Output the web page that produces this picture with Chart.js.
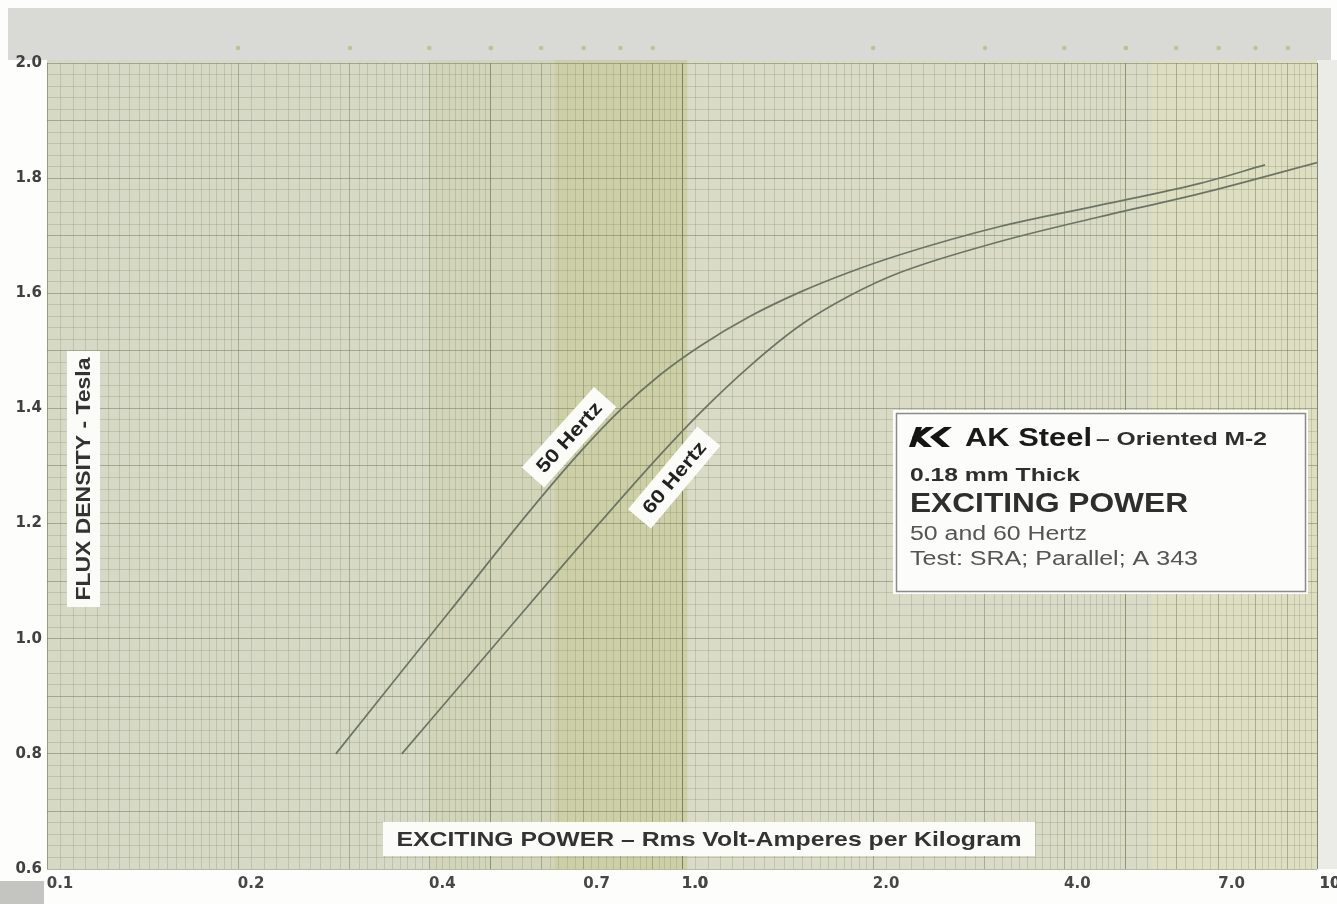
<!DOCTYPE html>
<html>
<head>
<meta charset="utf-8">
<title>AK Steel Oriented M-2 - Exciting Power</title>
<script src="https://cdn.jsdelivr.net/npm/chart.js@4.4.0/dist/chart.umd.min.js"></script>
<style>
  html, body { margin: 0; padding: 0; background: #fdfdfb; }
  #wrap { width: 1337px; height: 904px; position: relative; }
</style>
</head>
<body>
<div id="wrap"><canvas id="chart" width="1337" height="904"></canvas></div>
<script>
// ===== DATA =====
const power50 = [0.285, 0.431, 0.576, 0.691, 0.799, 0.923, 1.067, 1.280, 1.534, 1.839, 2.204, 3.167, 4.552, 6.541, 8.281];
const flux50  = [0.80,  1.048, 1.222, 1.324, 1.397, 1.458, 1.508, 1.560, 1.602, 1.637, 1.667, 1.716, 1.753, 1.791, 1.823];

const power60 = [0.362, 0.517, 0.743, 0.923, 1.067, 1.280, 1.534, 1.839, 2.204, 3.167, 4.552, 6.541, 10.0];
const flux60  = [0.80,  1.000, 1.202, 1.319, 1.392, 1.474, 1.544, 1.596, 1.636, 1.690, 1.733, 1.773, 1.827];

const xTickValues = [0.1, 0.2, 0.4, 0.7, 1, 2, 4, 7, 10];
const xTickText   = ['0.1', '0.2', '0.4', '0.7', '1.0', '2.0', '4.0', '7.0', '10'];
const yTickValues = [0.6, 0.8, 1.0, 1.2, 1.4, 1.6, 1.8, 2.0];

const FONT = '"Liberation Sans", Arial, sans-serif';
const TICK_FONT = '"DejaVu Sans", sans-serif';
const INK = '#333333';

// ===== GRAPH PAPER GRID VALUES =====
function logPaperLines() {
  const out = [];
  [0.1, 1].forEach(dec => {
    for (let m = 1; m < 2; m += 0.05) out.push(m * dec);
    for (let m = 2; m < 5; m += 0.1) out.push(m * dec);
    for (let m = 5; m < 10; m += 0.2) out.push(m * dec);
  });
  out.push(10);
  return out.map(v => Math.round(v * 1e6) / 1e6);
}
const xGrid = logPaperLines();

function isWhole(v) {
  const m = v / Math.pow(10, Math.floor(Math.log10(v) + 1e-9));
  return Math.abs(m - Math.round(m)) < 1e-6;
}
function isDecade(v) {
  return Math.abs(Math.log10(v) - Math.round(Math.log10(v))) < 1e-6;
}

// ===== BACKGROUND PAPER =====
const paperPlugin = {
  id: 'paper',
  beforeDraw(chart) {
    const { ctx, chartArea: a, scales } = chart;
    const h = a.bottom - a.top;
    ctx.save();
    ctx.fillStyle = '#fdfdfb';
    ctx.fillRect(0, 0, chart.width, chart.height);
    // grey scan strip along the top
    ctx.fillStyle = '#d9d9d6';
    ctx.fillRect(8, 8, chart.width - 14, a.top - 11);
    ctx.fillStyle = '#ebebe8';
    ctx.fillRect(a.right, a.top - 3, chart.width - a.right, h + 3);
    ctx.fillStyle = '#c4c4c1';
    ctx.fillRect(0, a.bottom + 12, 44, chart.height - a.bottom - 12);
    // paper
    const x = scales.x;
    const px = v => x.getPixelForValue(v);
    ctx.fillStyle = '#d6d9c5';
    ctx.fillRect(a.left, a.top - 3, a.right - a.left, h + 3);
    ctx.fillStyle = '#d2d5ba';
    ctx.fillRect(px(0.4), a.top - 3, px(0.63) - px(0.4), h + 3);
    ctx.fillStyle = '#cdcfa6';
    ctx.fillRect(px(0.63), a.top - 3, px(1.02) - px(0.63), h + 3);
    ctx.fillStyle = '#d9dbc6';
    ctx.fillRect(px(1.02), a.top - 3, a.right - px(1.02), h + 3);
    ctx.fillStyle = 'rgba(224,224,192,0.6)';
    ctx.fillRect(px(5.5), a.top - 3, a.right - px(5.5), h + 3);
    // register dots on the top strip
    ctx.fillStyle = '#bcc291';
    xGrid.filter(v => isWhole(v) && !isDecade(v)).forEach(v => {
      ctx.beginPath();
      ctx.arc(px(v), a.top - 15, 2.2, 0, Math.PI * 2);
      ctx.fill();
    });
    ctx.restore();
  }
};

// ===== TEXT OVERLAYS =====
function whiteBox(ctx, x, y, w, h) {
  ctx.fillStyle = '#fbfbf8';
  ctx.fillRect(x, y, w, h);
}

// draw text stretched to the printed width
function fitText(ctx, text, x, y, width, centered) {
  const w = ctx.measureText(text).width;
  ctx.save();
  ctx.translate(x, y);
  ctx.scale(width / w, 1);
  ctx.textAlign = 'left';
  ctx.fillText(text, centered ? -w / 2 : 0, 0);
  ctx.restore();
}

const overlayPlugin = {
  id: 'overlay',
  afterDatasetsDraw(chart) {
    const { ctx, scales } = chart;
    ctx.save();
    ctx.textBaseline = 'middle';

    // axis titles printed on the paper
    whiteBox(ctx, 383, 822, 652, 34);
    ctx.fillStyle = INK;
    ctx.font = 'bold 21px ' + FONT;
    fitText(ctx, 'EXCITING POWER \u2013 Rms Volt-Amperes per Kilogram', 709, 840, 625, true);

    ctx.save();
    ctx.translate(83, 479);
    ctx.rotate(-Math.PI / 2);
    whiteBox(ctx, -128, -16, 256, 33);
    ctx.fillStyle = INK;
    ctx.font = 'bold 21px ' + FONT;
    fitText(ctx, 'FLUX DENSITY - Tesla', 0, 1, 243, true);
    ctx.restore();

    // curve tags
    const tags = [
      { text: '50 Hertz', x: 0.664, y: 1.35, angle: -48 },
      { text: '60 Hertz', x: 0.972, y: 1.28, angle: -50 }
    ];
    tags.forEach(t => {
      ctx.save();
      ctx.translate(scales.x.getPixelForValue(t.x), scales.y.getPixelForValue(t.y));
      ctx.rotate(t.angle * Math.PI / 180);
      whiteBox(ctx, -54, -15, 108, 30);
      ctx.fillStyle = '#222';
      ctx.font = 'bold 19px ' + FONT;
      fitText(ctx, t.text, 0, 1, 88, true);
      ctx.restore();
    });

    // product box
    ctx.fillStyle = '#fcfcfa';
    ctx.fillRect(893, 410, 415, 184);
    ctx.strokeStyle = '#8a8a86';
    ctx.lineWidth = 1.5;
    ctx.strokeRect(896.5, 413.5, 409, 178);

    // AK logo chevrons
    ctx.fillStyle = '#141414';
    [911, 929].forEach((lx, i) => {
      ctx.beginPath();
      ctx.moveTo(lx + 15, 427);
      ctx.lineTo(lx + 23, 427);
      ctx.lineTo(lx + 10, 437);
      ctx.lineTo(lx + 21, 447);
      ctx.lineTo(lx + 13, 447);
      ctx.lineTo(lx + 1, 437);
      ctx.closePath();
      ctx.fill();
      if (i === 0) {
        ctx.beginPath();
        ctx.moveTo(lx + 5, 427);
        ctx.lineTo(lx + 11, 427);
        ctx.lineTo(lx + 4, 447);
        ctx.lineTo(lx - 2, 447);
        ctx.closePath();
        ctx.fill();
      }
    });

    ctx.textBaseline = 'alphabetic';
    ctx.fillStyle = '#1a1a1a';
    ctx.font = 'bold 26px ' + FONT;
    fitText(ctx, 'AK Steel', 965, 446, 127);
    ctx.fillStyle = '#2e2e2e';
    ctx.font = 'bold 19px ' + FONT;
    fitText(ctx, '\u2013 Oriented M-2', 1096, 445, 171);
    fitText(ctx, '0.18 mm Thick', 910, 481, 170);
    ctx.font = 'bold 27px ' + FONT;
    fitText(ctx, 'EXCITING POWER', 910, 512, 278);
    ctx.fillStyle = '#555555';
    ctx.font = '20px ' + FONT;
    fitText(ctx, '50 and 60 Hertz', 910, 540, 177);
    fitText(ctx, 'Test: SRA; Parallel; A 343', 910, 565, 288);

    ctx.restore();
  }
};

// ===== CHART =====
const toPoints = (xs, ys) => xs.map((v, i) => ({ x: v, y: ys[i] }));
const curveStyle = {
  borderColor: '#6c7564',
  borderWidth: 1.7,
  pointRadius: 0,
  fill: false,
  cubicInterpolationMode: 'monotone'
};

new Chart(document.getElementById('chart'), {
  type: 'line',
  data: {
    datasets: [
      Object.assign({ label: '50 Hertz', data: toPoints(power50, flux50) }, curveStyle),
      Object.assign({ label: '60 Hertz', data: toPoints(power60, flux60) }, curveStyle)
    ]
  },
  options: {
    responsive: false,
    animation: false,
    devicePixelRatio: 1,
    layout: { padding: { top: 63, right: 20, left: 0, bottom: 0 } },
    plugins: { legend: { display: false }, tooltip: { enabled: false } },
    scales: {
      x: {
        type: 'logarithmic',
        min: 0.1,
        max: 10,
        border: { display: false },
        afterBuildTicks: s => { s.ticks = xGrid.map(v => ({ value: v })); },
        afterFit: s => { s.height = 35; },
        grid: {
          drawTicks: false,
          color: c => {
            const v = c.tick ? c.tick.value : 0;
            if (isDecade(v)) return 'rgba(105,115,80,0.6)';
            if (isWhole(v)) return 'rgba(115,125,88,0.5)';
            return 'rgba(135,145,105,0.3)';
          }
        },
        ticks: {
          autoSkip: false,
          maxRotation: 0,
          padding: 6,
          labelOffset: 13,
          color: '#474747',
          font: { family: TICK_FONT, size: 15, weight: 'bold' },
          callback: v => {
            const i = xTickValues.findIndex(t => Math.abs(t - v) < 1e-6);
            return i >= 0 ? xTickText[i] : '';
          }
        }
      },
      y: {
        type: 'linear',
        min: 0.6,
        max: 2.0,
        border: { display: false },
        afterFit: s => { s.width = 47; },
        grid: {
          drawTicks: false,
          color: c => {
            const v = c.tick ? c.tick.value : 0;
            return Math.abs(v * 10 - Math.round(v * 10)) < 1e-6 ? 'rgba(110,120,85,0.5)' : 'rgba(135,145,105,0.3)';
          }
        },
        ticks: {
          stepSize: 0.02,
          maxTicksLimit: 200,
          autoSkip: false,
          padding: 5,
          color: '#404040',
          font: { family: TICK_FONT, size: 15, weight: 'bold' },
          callback: v => {
            const hit = yTickValues.find(t => Math.abs(t - v) < 1e-6);
            return hit !== undefined ? hit.toFixed(1) : '';
          }
        }
      }
    }
  },
  plugins: [paperPlugin, overlayPlugin]
});
</script>
</body>
</html>
